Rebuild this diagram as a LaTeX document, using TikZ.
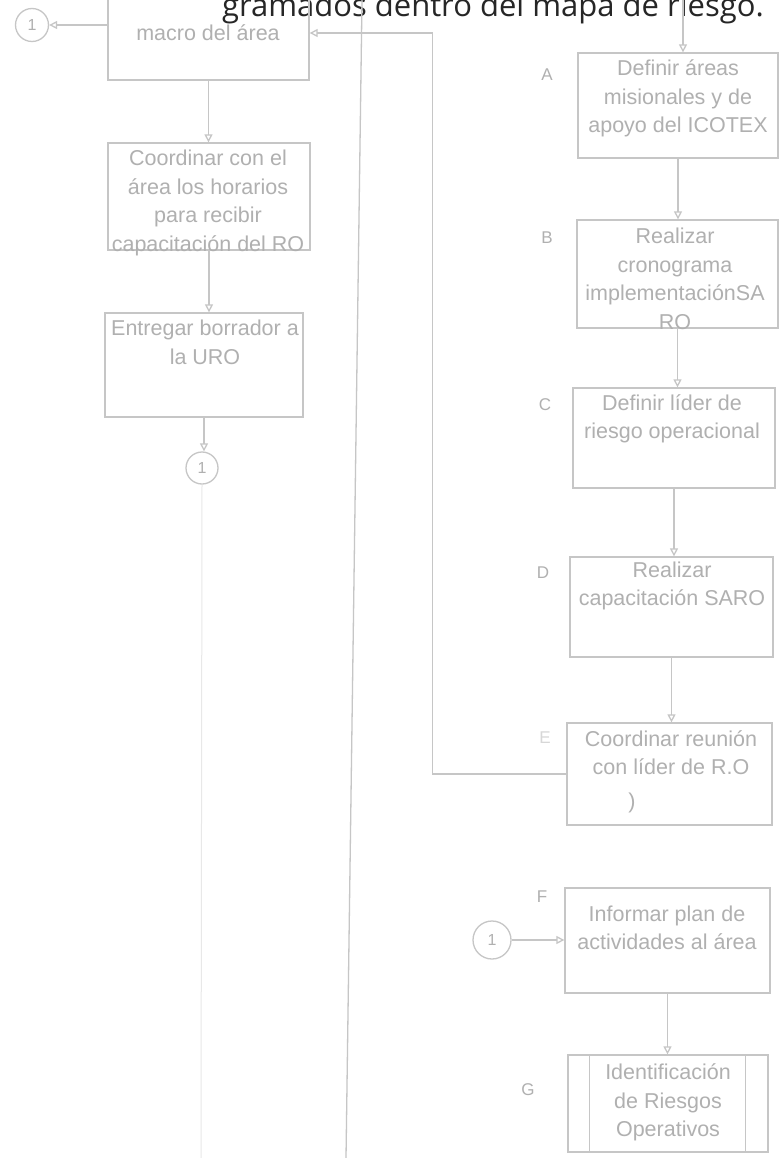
\documentclass[tikz,border=0pt]{standalone}
\usepackage{fontspec}
\setmainfont{Liberation Sans}
\newfontfamily\headfont{Open Sans}
\usetikzlibrary{arrows.meta}
\definecolor{lc}{RGB}{198,198,198}
\definecolor{tc}{RGB}{176,176,176}
\definecolor{hc}{RGB}{38,38,38}
\definecolor{fc}{RGB}{232,232,232}
\begin{document}
\begin{tikzpicture}[x=1pt,y=-1pt,
  box/.style={draw=lc,line width=1.3pt,inner sep=0,rectangle},
  txt/.style={text=tc,align=center,font=\fontsize{21.5}{28.5}\selectfont,inner sep=0},
  lbl/.style={text=tc,font=\fontsize{17}{20}\selectfont,inner sep=0},
  conn/.style={draw=lc,line width=1.3pt},
  arr/.style={conn,-{Triangle[open,length=8pt,width=8pt]}},
  circ/.style={draw=lc,line width=1.3pt,circle,inner sep=0,text=tc,font=\fontsize{16}{18}\selectfont}]
\useasboundingbox (0,0) rectangle (780,1158);
\clip (0,0) rectangle (780,1158);
\fill[white] (0,0) rectangle (780,1158);

% header (clipped at top, as in the scan)
\node[font=\headfont\fontsize{31}{34}\selectfont,text=hc,anchor=base east,inner sep=0] (hdr) at (764,17) {gramados dentro del mapa de riesgo.};

% lane divider
\coordinate (lt) at (362,0);
\coordinate (lb) at (346,1158);
\draw[conn] (lt) -- (lb);

% left column
\node[box,minimum width=201,minimum height=94] (b1) at (208.5,33) {};
\node[txt] (t1) at (208,33) {macro del área};
\node[box,minimum width=202,minimum height=107] (b2) at (209,196.5) {};
\node[txt] (t2) at (208,203) {Coordinar con el\\área los horarios\\para recibir\\capacitación del RO};
\node[box,minimum width=198,minimum height=104] (b3) at (204,365) {};
\node[txt] (t3) at (205,342.5) {Entregar borrador a\\la URO};
\node[circ,minimum size=33] (c1) at (32,25) {1};
\node[circ,minimum size=32] (c2) at (202,468) {1};

% right column
\node[box,minimum width=200,minimum height=105] (A) at (678,105.5) {};
\node[txt] (tA) at (678,98.5) {Definir áreas\\misionales y de\\apoyo del ICOTEX};
\node[box,minimum width=201,minimum height=108] (B) at (677.5,274) {};
\node[txt] (tB) at (675,279) {Realizar\\cronograma\\implementaciónSA\\RO};
\node[box,minimum width=202,minimum height=100] (C) at (674,438) {};
\node[txt] (tC) at (672,419) {Definir líder de\\riesgo operacional};
\node[box,minimum width=203,minimum height=100] (D) at (671.5,607) {};
\node[txt] (tD) at (672,586) {Realizar\\capacitación SARO};
\node[box,minimum width=205,minimum height=102] (E) at (669.5,774) {};
\node[txt] (tE) at (671,752.5) {Coordinar reunión\\con líder de R.O};
\node[txt] (tE2) at (632,803) {)};
\node[box,minimum width=205,minimum height=105] (F) at (667.5,940.5) {};
\node[txt] (tF) at (667,928) {Informar plan de\\actividades al área};
\node[box,minimum width=200,minimum height=97] (G) at (668,1103.5) {};
\node[txt] (tG) at (668,1102.5) {Identificación\\de Riesgos\\Operativos};
\draw[conn] ([xshift=22pt]G.north west) -- ([xshift=22pt]G.south west);
\draw[conn] ([xshift=-23pt]G.north east) -- ([xshift=-23pt]G.south east);
\node[circ,minimum size=38] (c3) at (492,940) {1};

% step labels
\node[lbl] (lA) at (547,75) {A};
\node[lbl] (lB) at (547,238) {B};
\node[lbl] (lC) at (545,405) {C};
\node[lbl] (lD) at (543,573) {D};
\node[lbl,text=fc!70!tc] (lE) at (545,738) {E};
\node[lbl] (lF) at (542,897) {F};
\node[lbl] (lG) at (528,1090) {G};

% connectors
\coordinate (top) at (683,0);
\draw[arr] (top) -- (top |- A.north);
\draw[arr] (A.south) -- (A.south |- B.north);
\draw[arr] (B.south) -- (B.south |- C.north);
\draw[arr] (C.south) -- (C.south |- D.north);
\draw[arr] (D.south) -- (D.south |- E.north);
\draw[arr] (F.south) -- (F.south |- G.north);
\draw[arr] (c3.east) -- (c3.east -| F.west);
\draw[arr] (E.west) -- ++(-134,0) |- (b1.east);
\draw[arr] ([yshift=8pt]b1.west) -- (c1.east);
\draw[arr] (b1.south) -- (b1.south |- b2.north);
\draw[arr] (b2.south) -- (b2.south |- b3.north);
\draw[arr] (b3.south) -- (b3.south |- c2.north);
\coordinate (fb) at (201,1158);
\draw[draw=fc,line width=1pt] (c2.south) -- (fb);
\end{tikzpicture}
\end{document}
